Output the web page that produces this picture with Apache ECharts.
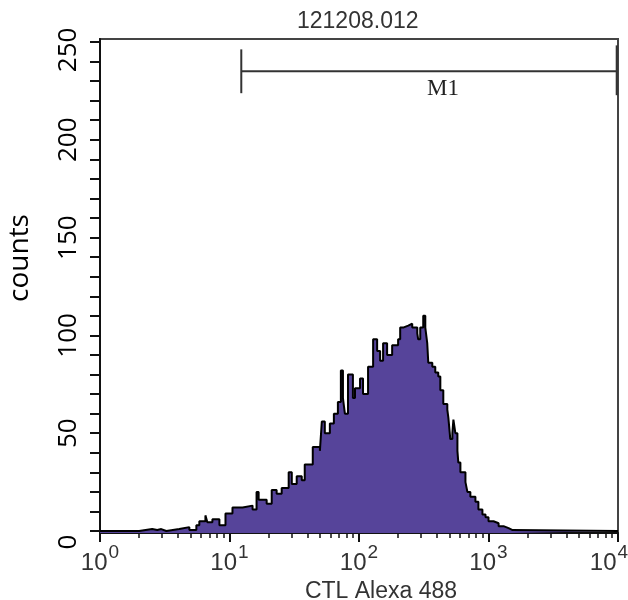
<!DOCTYPE html>
<html><head><meta charset="utf-8">
<script src="https://cdn.jsdelivr.net/npm/echarts@6/dist/echarts.min.js"></script>
<style>html,body{margin:0;padding:0;background:#fff}#c{width:628px;height:600px}</style>
</head><body><div id="c"></div>
<script>
const chartTitle = '121208.012';
const xName = 'CTL Alexa 488';
const yName = 'counts';

// histogram (step): left edge of each step (log10 of intensity) and count
const log10Intensity = [0, 0.302, 0.403, 0.442, 0.473, 0.512, 0.612, 0.690, 0.744, 0.767, 0.814, 0.829, 0.868, 0.922, 0.969,
  1.023, 1.101, 1.178, 1.209, 1.225, 1.287, 1.326, 1.364, 1.403, 1.457, 1.481, 1.519, 1.558, 1.581, 1.643, 1.698, 1.713,
  1.736, 1.775, 1.806, 1.837, 1.860, 1.876, 1.891, 1.915, 1.953, 1.969, 2.008, 2.031, 2.070, 2.109, 2.140, 2.163, 2.186,
  2.217, 2.256, 2.302, 2.318, 2.341, 2.380, 2.411, 2.450, 2.457, 2.473, 2.496, 2.512, 2.527, 2.535, 2.566, 2.589, 2.612,
  2.628, 2.651, 2.682, 2.690, 2.705, 2.721, 2.729, 2.744, 2.760, 2.767, 2.783, 2.822, 2.837, 2.860, 2.899, 2.922, 2.953,
  2.977, 3.000, 3.039, 3.078, 3.116, 3.155, 3.186, 4.0];
const counts = [0, 1, 0.5, 1, 0, 1, 2, 0.5, 3, 5, 8, 4.5, 6, 3, 9,
  12, 13, 11, 20, 16, 14, 21, 19, 22, 30, 24, 28, 26, 34, 43, 41, 56,
  50, 55, 60, 66, 82, 68, 60, 80, 68, 73, 78, 70, 84, 98, 92, 87, 96,
  90, 95, 98, 104, 105, 106, 104, 101, 98, 104, 110, 104, 96, 86, 84, 81, 79,
  72, 65, 62, 58, 47, 50, 57, 50, 41, 35, 30, 25, 20, 17.5, 15, 11, 8.5,
  7, 5, 4, 2.5, 1.5, 0.5, 0, 0];

const xDecades = [0, 1, 2, 3, 4];
const xMinorMultipliers = [2, 3, 4, 5, 6, 7, 8, 9];
const yTickValues = [0, 10, 20, 30, 40, 50, 60, 70, 80, 90, 100, 110, 120, 130, 140, 150, 160, 170, 180, 190, 200, 210, 220, 230, 240, 250];
const yLabelValues = [0, 50, 100, 150, 200, 250];

const gateName = 'M1';
const gateStartLog = 1.091;
const gateEndLog = 3.99;
const gateLevel = 235;
const gateHalfHeight = 11.2;

const minorTicks = [];
for (let d = 0; d < 4; d++) for (const m of xMinorMultipliers) minorTicks.push(d + Math.log10(m));

const histData = log10Intensity.map((v, i) => [v, counts[i]]);
const narrow = "'Liberation Sans Narrow', 'Liberation Sans', Arial, sans-serif";
const lastDecade = xDecades[xDecades.length - 1];
const yMaxLabel = yLabelValues[yLabelValues.length - 1];

const chart = echarts.init(document.getElementById('c'), null, {renderer: 'canvas'});
chart.setOption({
  animation: false,
  backgroundColor: '#fff',
  graphic: [{type: 'text', left: 358 - 61, top: 10, style: {text: chartTitle, font: "23px 'Liberation Sans Narrow', 'Liberation Sans', sans-serif", fill: '#333'}}],
  grid: {left: 100, right: 10, top: 39, bottom: 67, outerBoundsMode: 'none', containLabel: false,
         show: true, borderColor: '#444', borderWidth: 2, backgroundColor: 'transparent'},
  xAxis: [{
    type: 'value', min: 0, max: 4, position: 'bottom',
    axisLine: {show: true, onZero: false, lineStyle: {color: '#111', width: 2}},
    axisTick: {show: true, customValues: xDecades, length: 9, lineStyle: {color: '#111', width: 2}},
    axisLabel: {
      customValues: xDecades, margin: 10, color: '#333',
      formatter: v => '{b|10}{' + (v === lastDecade ? 'sl' : 's') + '|' + v + '}',
      rich: {
        b: {fontSize: 24, fontFamily: narrow, color: '#333', verticalAlign: 'bottom'},
        s: {fontSize: 19, fontFamily: narrow, color: '#333', padding: [0, 0, 13, 1]},
        sl: {fontSize: 19, fontFamily: narrow, color: '#333', padding: [0, 18, 13, 1]}
      }
    },
    splitLine: {show: false},
    name: xName, nameLocation: 'middle', nameGap: 47,
    nameTextStyle: {fontSize: 23, fontFamily: narrow, color: '#333', padding: [0, 0, 0, 44]}
  }, {
    type: 'value', min: 0, max: 4, position: 'bottom', gridIndex: 0,
    axisLine: {show: false, onZero: false},
    axisTick: {show: true, customValues: minorTicks, length: 5, lineStyle: {color: '#111', width: 1.5}},
    axisLabel: {show: false},
    splitLine: {show: false}
  }],
  yAxis: {
    type: 'value', min: -1, max: 251.5,
    axisLine: {show: true, lineStyle: {color: '#111', width: 2}},
    axisTick: {show: true, customValues: yTickValues, length: 10, lineStyle: {color: '#111', width: 2}},
    axisLabel: {
      customValues: yLabelValues, rotate: 90, margin: 18,
      fontSize: 26, fontFamily: 'Open Sans', color: '#000',
      formatter: v => (v === 0 ? '{z|0}' : v === yMaxLabel ? '{t|' + v + '}' : String(v)),
      rich: {
        z: {fontSize: 26, fontFamily: 'Open Sans', color: '#000', padding: [0, 22, 0, 0]},
        t: {fontSize: 26, fontFamily: 'Open Sans', color: '#000', padding: [0, 16, 0, 0]}
      }
    },
    splitLine: {show: false},
    name: yName, nameLocation: 'middle', nameRotate: 90, nameGap: 66,
    nameTextStyle: {fontSize: 28, fontFamily: 'Open Sans', color: '#000', padding: [0, 0, 0, 56]}
  },
  series: [{
    type: 'line', xAxisIndex: 0, yAxisIndex: 0, data: histData, step: 'end', symbol: 'none',
    lineStyle: {color: '#000', width: 2},
    areaStyle: {color: '#56449A', opacity: 1, origin: 'start'},
    z: 2
  }, {
    type: 'custom', xAxisIndex: 0, yAxisIndex: 0, z: 3,
    data: [[gateStartLog, gateEndLog, gateLevel]],
    renderItem: (params, api) => {
      const s = api.coord([api.value(0), api.value(2)]);
      const e = api.coord([api.value(1), api.value(2)]);
      const top = api.coord([api.value(0), api.value(2) + gateHalfHeight])[1];
      const bot = api.coord([api.value(0), api.value(2) - gateHalfHeight])[1];
      const st = {stroke: '#333', lineWidth: 2};
      return {type: 'group', children: [
        {type: 'line', shape: {x1: s[0], y1: s[1], x2: e[0], y2: e[1]}, style: st},
        {type: 'line', shape: {x1: s[0], y1: top, x2: s[0], y2: bot}, style: st},
        {type: 'line', shape: {x1: e[0], y1: top - 4, x2: e[0], y2: bot + 2}, style: st},
        {type: 'text', x: (s[0] + e[0]) / 2 + 14, y: s[1] + 6,
         style: {text: gateName, font: "23px 'Liberation Serif', 'Times New Roman', serif", fill: '#222', align: 'center', verticalAlign: 'top'}}
      ]};
    }
  }]
});
</script></body></html>
